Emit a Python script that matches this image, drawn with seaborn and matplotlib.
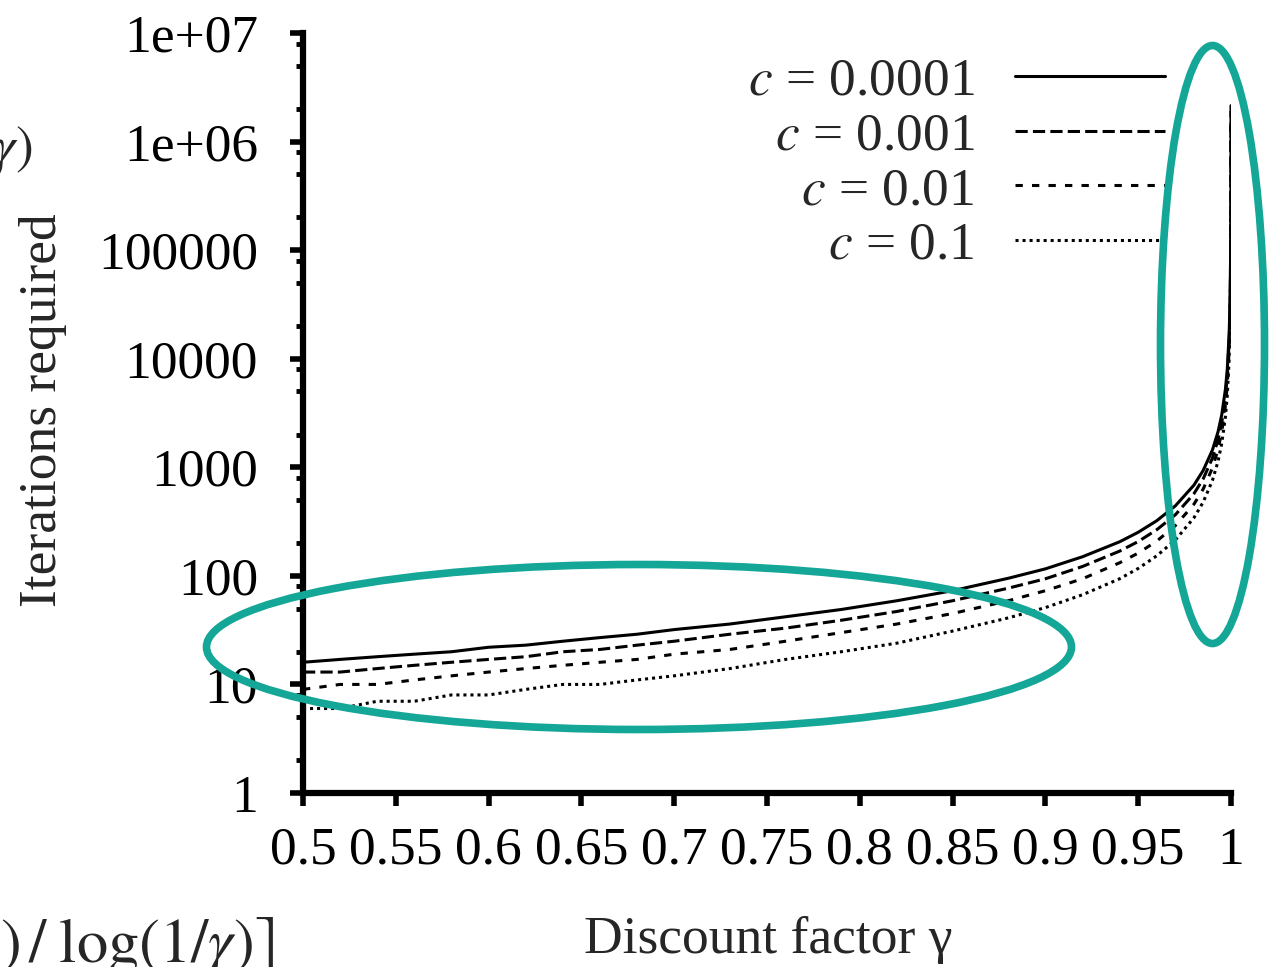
import pandas as pd
import matplotlib
matplotlib.use("Agg")
import matplotlib.pyplot as plt
import seaborn as sns
from matplotlib.patches import Ellipse
from matplotlib.ticker import LogLocator, NullFormatter, NullLocator

# ------------------------------
# data
# ------------------------------
gamma = [0.50, 0.52, 0.54, 0.56, 0.58, 0.60, 0.62, 0.64, 0.66, 0.68, 0.70,
         0.73, 0.76, 0.79, 0.82, 0.85, 0.88, 0.90, 0.92, 0.94, 0.95, 0.96,
         0.97, 0.98, 0.985, 0.99, 0.993, 0.995, 0.997, 0.998, 0.999, 0.9995,
         0.9998, 0.9999, 0.99995, 0.99998, 0.99999]

iters_c0001 = [16, 17, 18, 19, 20, 22, 23, 25, 27, 29, 32, 36, 42, 49, 59, 73,
               95, 116, 150, 206, 252, 322, 441, 684, 934, 1444, 2117, 3033,
               5230, 8052, 16803, 35000, 92094, 191129, 396129, 1036153, 2141631]
iters_c001 = [13, 13, 14, 15, 16, 17, 18, 20, 21, 23, 25, 29, 33, 39, 47, 59,
              77, 94, 122, 169, 207, 266, 365, 570, 781, 1215, 1789, 2574,
              4464, 6901, 14501, 30396, 80582, 168104, 350079, 921025, 1911373]
iters_c01 = [9, 10, 10, 11, 12, 13, 14, 15, 16, 17, 19, 21, 25, 30, 36, 45,
             59, 73, 94, 132, 162, 209, 290, 456, 629, 986, 1461, 2115,
             3697, 5751, 12200, 25792, 69071, 145079, 304028, 805897, 1681116]
iters_c1 = [6, 6, 7, 7, 8, 8, 9, 10, 10, 11, 12, 14, 17, 20, 24, 31,
            41, 51, 67, 94, 117, 153, 214, 342, 477, 757, 1133, 1655,
            2931, 4601, 9899, 21188, 57559, 122055, 257978, 690769, 1450858]

c_labels = ["$c$ = 0.0001", "$c$ = 0.001", "$c$ = 0.01", "$c$ = 0.1"]

x_ticks = [0.5, 0.55, 0.6, 0.65, 0.7, 0.75, 0.8, 0.85, 0.9, 0.95, 1.0]
x_tick_labels = ["0.5", "0.55", "0.6", "0.65", "0.7", "0.75", "0.8",
                 "0.85", "0.9", "0.95", "1"]
y_ticks = [1, 10, 100, 1000, 10000, 100000, 1e6, 1e7]
y_tick_labels = ["1", "10", "100", "1000", "10000", "100000", "1e+06", "1e+07"]

df = pd.concat([
    pd.DataFrame({"gamma": gamma, "iterations": vals, "c": lab})
    for lab, vals in zip(c_labels, [iters_c0001, iters_c001, iters_c01, iters_c1])
])

# ------------------------------
# style
# ------------------------------
sns.set_style("ticks")
plt.rcParams["font.family"] = ["Liberation Serif", "DejaVu Serif"]
plt.rcParams["mathtext.fontset"] = "stix"

W, H = 1271, 967
FS = 38.5
teal = "#14a696"

fig = plt.figure(figsize=(W / 100, H / 100), dpi=100)
ax = fig.add_axes([303 / W, 174 / H, 928 / W, 760 / H])

dash_map = {c_labels[0]: "", c_labels[1]: (4, 1.7),
            c_labels[2]: (2.4, 3.0), c_labels[3]: (1, 1.3)}

sns.lineplot(data=df, x="gamma", y="iterations", style="c", style_order=c_labels,
             dashes=dash_map, color="black", linewidth=2.2, estimator=None,
             legend=False, ax=ax)

ax.set_yscale("log")
ax.set_xlim(0.5, 1.0)
ax.set_ylim(1, 1e7)
ax.set_xticks(x_ticks, x_tick_labels)
ax.set_yticks(y_ticks, y_tick_labels)
ax.yaxis.set_minor_locator(LogLocator(base=10, subs=[2, 5, 8], numticks=20))
ax.yaxis.set_minor_formatter(NullFormatter())
ax.xaxis.set_minor_locator(NullLocator())
ax.set_xlabel("")
ax.set_ylabel("")

sns.despine(ax=ax)
for s in ["left", "bottom"]:
    ax.spines[s].set_linewidth(4.5)
    ax.spines[s].set_color("black")

ax.tick_params(which="major", length=9.4, width=4, labelsize=FS,
               color="black", labelcolor="black", direction="out")
ax.tick_params(which="minor", length=5, width=3.5, color="black")
ax.tick_params(axis="x", pad=15)
ax.tick_params(axis="y", pad=23)

# legend: labels on the left, lines on the right
leg = ax.legend(ax.get_lines()[:4], c_labels, loc="upper right",
                bbox_to_anchor=(1165 / W, 1 - 57 / H), bbox_transform=fig.transFigure,
                frameon=False, markerfirst=False, handlelength=2.8,
                handletextpad=0.76, labelspacing=0.12, borderpad=0,
                borderaxespad=0, fontsize=FS)

# axis titles and cropped slide text
fig.text(43 / W, 1 - 410 / H, "Iterations required", rotation=90,
         ha="center", va="center", fontsize=FS)
fig.text(768 / W, 1 - 953 / H, "Discount factor γ", ha="center",
         va="baseline", fontsize=FS)
fig.text(33 / W, 1 - 163 / H, r"$(1-\gamma)$", ha="right", va="baseline",
         fontsize=FS)
fig.text(274 / W, 1 - 962 / H, r"$\log(2/c(1-\gamma))\,/\;\log(1/\gamma)\rceil$",
         ha="right", va="baseline", fontsize=45)

# teal highlight ellipses
fig.add_artist(Ellipse((639 / W, 1 - 647 / H), 865 / W, 165 / H,
                       transform=fig.transFigure, fill=False, ec=teal, lw=5.5))
fig.add_artist(Ellipse((1212.5 / W, 1 - 344.5 / H), 104 / W, 598 / H,
                       transform=fig.transFigure, fill=False, ec=teal, lw=5.5))

fig.savefig("out.png", dpi=100)
plt.close(fig)
